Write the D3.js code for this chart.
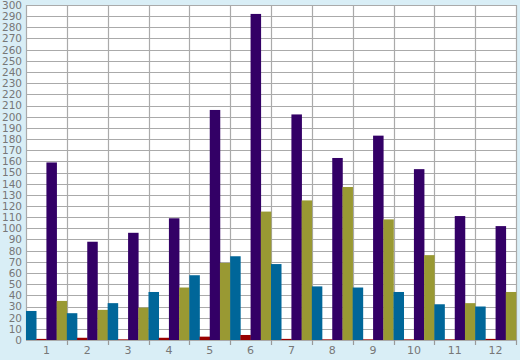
<!DOCTYPE html>
<html><head><meta charset="utf-8">
<script src="https://cdn.jsdelivr.net/npm/d3@7"></script>
<style>html,body{margin:0;padding:0;background:#d9eef6;}svg{display:block;}</style>
</head><body>
<script>
const categories = ["1","2","3","4","5","6","7","8","9","10","11","12"];
const seriesNames = ["A","B","C","D"];
const seriesA = [26, 24, 33, 43, 58, 75, 68, 48, 47, 43, 32, 30];
const seriesB = [1, 2, 0.6, 2, 3, 4.5, 1, 0.6, 0.6, 0.6, 0.6, 1];
const seriesC = [159, 88, 96, 109, 206, 292, 202, 163, 183, 153, 111, 102];
const seriesD = [35, 27, 29, 47, 69, 115, 125, 137, 108, 76, 33, 43];
const colors = ["#006699", "#990000", "#330066", "#999933"];
const yTicks = d3.range(0, 301, 10);

const W = 520, H = 360;
const m = {left: 26, right: 4, top: 5, bottom: 20};
const svg = d3.select("body").append("svg").attr("width", W).attr("height", H);
svg.append("rect").attr("width", W).attr("height", H).attr("fill", "#d9eef6");

const x = d3.scaleBand().domain(categories).range([m.left, W - m.right]).padding(0);
const x1 = d3.scaleBand().domain(seriesNames).range([0, x.bandwidth()]).padding(0);
const y = d3.scaleLinear().domain([0, 300]).range([H - m.bottom, m.top]);

svg.append("rect").attr("x", m.left).attr("y", m.top)
  .attr("width", W - m.left - m.right).attr("height", H - m.top - m.bottom).attr("fill", "#fff");

// horizontal gridlines
svg.append("g").selectAll("line").data(yTicks).join("line")
  .attr("x1", m.left).attr("x2", W - m.right)
  .attr("y1", d => Math.round(y(d)) + 0.5).attr("y2", d => Math.round(y(d)) + 0.5)
  .attr("stroke", "#aaaaaa").attr("stroke-width", 1.2);

// vertical gridlines at category boundaries
const bounds = categories.map(c => x(c)).concat([W - m.right]);
svg.append("g").selectAll("line").data(bounds).join("line")
  .attr("x1", d => Math.round(d) + 0.5).attr("x2", d => Math.round(d) + 0.5)
  .attr("y1", m.top).attr("y2", H - m.bottom)
  .attr("stroke", "#aaaaaa").attr("stroke-width", 1.2);

const series = [seriesA, seriesB, seriesC, seriesD];
const g = svg.append("g");
categories.forEach((c, i) => {
  series.forEach((s, j) => {
    g.append("rect")
      .attr("x", x(c) + x1(seriesNames[j]))
      .attr("width", x1.bandwidth() + 0.3)
      .attr("y", y(s[i]))
      .attr("height", y(0) - y(s[i]))
      .attr("fill", colors[j]);
  });
});

// y axis labels
const yAxis = d3.axisLeft(y).tickValues(yTicks).tickSize(0).tickPadding(4);
const ya = svg.append("g").attr("transform", `translate(${m.left},0)`).call(yAxis);
ya.select(".domain").remove();
ya.selectAll("text").attr("fill", "#777").style("font-family", "DejaVu Sans").style("font-size", "10.5px");

// x axis
const xAxis = d3.axisBottom(x).tickSize(0).tickPadding(6);
const xa = svg.append("g").attr("transform", `translate(0,${H - m.bottom})`).call(xAxis);
xa.select(".domain").remove();
xa.selectAll("text").attr("fill", "#777").style("font-family", "DejaVu Sans").style("font-size", "11px");
// tick marks at boundaries
svg.append("g").selectAll("line").data(bounds.slice(1)).join("line")
  .attr("x1", d => Math.round(d) + 0.5).attr("x2", d => Math.round(d) + 0.5)
  .attr("y1", H - m.bottom).attr("y2", H - m.bottom + 5)
  .attr("stroke", "#999").attr("stroke-width", 1.2);
</script>
</body></html>
